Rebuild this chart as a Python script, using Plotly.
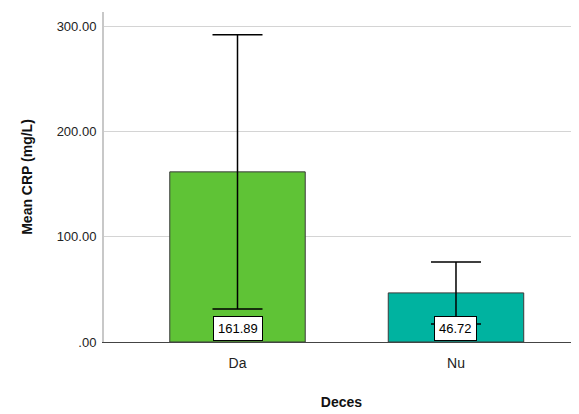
import plotly.graph_objects as go

categories = ["Da", "Nu"]
means = [161.89, 46.72]
errors = [130.5, 29.5]
labels = ["161.89", "46.72"]
colors = ["#5FC336", "#00B3A0"]
y_tick_vals = [0, 100, 200, 300]
y_tick_text = [".00", "100.00", "200.00", "300.00"]

fig = go.Figure()
fig.add_trace(go.Bar(
    x=categories, y=means, width=0.62,
    marker=dict(color=colors, line=dict(color="#3a3a3a", width=1)),
    error_y=dict(type="data", array=errors, visible=True, color="black",
                 thickness=1.5, width=25),
    showlegend=False,
))

for c, m, lab in zip(categories, means, labels):
    fig.add_annotation(x=c, y=0, yanchor="bottom", yshift=1, text=lab,
                       showarrow=False, bgcolor="white", bordercolor="black",
                       borderwidth=1, borderpad=4,
                       font=dict(family="Liberation Sans, Arial", size=13, color="black"))

fig.update_layout(
    width=571, height=406,
    margin=dict(l=96, r=0, t=4, b=72),
    plot_bgcolor="white", paper_bgcolor="white",
    font=dict(family="Liberation Sans, Arial", size=13, color="#222"),
)
fig.update_xaxes(
    range=[-0.611, 1.563], showline=True, linecolor="#444", linewidth=1,
    ticks="", showgrid=False, automargin=False, ticklabelstandoff=8,
    tickfont=dict(size=14, color="#222"),
    title=dict(text="<b>Deces</b>", font=dict(size=14, color="#111"), standoff=27),
)
fig.update_yaxes(
    range=[0, 314], tickvals=y_tick_vals, ticktext=y_tick_text,
    showgrid=True, gridcolor="#d4d4d4", gridwidth=1,
    showline=True, linecolor="#c8c8c8", linewidth=2, ticks="",
    zeroline=False, automargin=False, ticklabelstandoff=3,
    tickfont=dict(size=13, color="#222"),
    title=dict(text="<b>Mean CRP (mg/L)</b>", font=dict(size=14, color="#111"), standoff=21),
)

fig.write_html("out.html")
